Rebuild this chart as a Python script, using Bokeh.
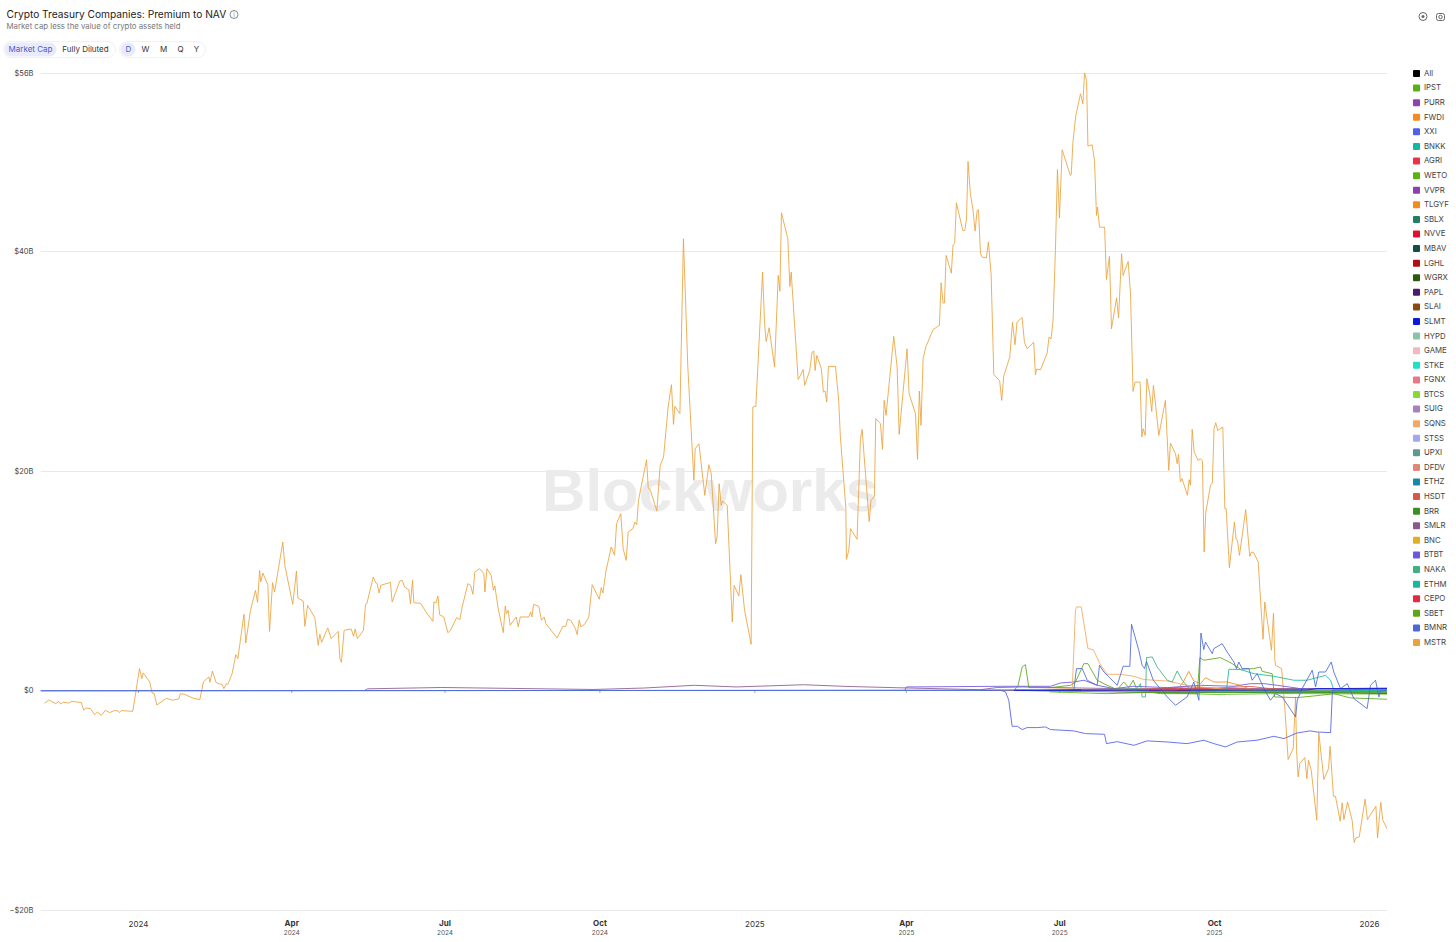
from bokeh.embed import file_html
from bokeh.resources import INLINE
from bokeh.plotting import figure
from bokeh.layouts import column, row
from bokeh.core.properties import value
from bokeh.models import Label, FixedTicker, Range1d

# ---- data: days since 2024-01-01, values in $B ----
MSTR_d = [-55.8,-53.2,-49.3,-47.3,-46.3,-44.7,-41.4,-39.4,-34,-32.5,-31.3,-28.5,-26.1,-24.5,-22,-19.6,-17.2,-14.3,-12.1,-11.3,-10.1,-3.4,0.6,2,2.8,6.7,8.1,9.3,10.9,16.6,20,24,24.7,26.9,32.5,36.4,38.6,41.8,42.4,43.9,46.1,49.7,50.7,52.1,53,55.6,57.8,59,62.6,63.7,66.5,69.5,70.7,71.9,72.6,73.8,76.8,77.8,79.6,80.8,85.7,86.9,91.6,93.8,94.6,97.8,98.8,100.4,104.7,106.7,107.7,108.7,112.4,114.4,118.6,119.6,120.5,122.1,126.3,127.7,128.7,130,133.6,134.8,135.6,139.4,141,141.7,142.9,143.9,149.6,150.6,155.2,
156.6,158,160.5,161.5,162.7,163.5,167.5,170.4,174.8,175.4,176.6,177.8,178.8,181.3,183.7,185.3,188.9,190.8,192.2,195.6,197.2,198.6,199.7,202.5,205.1,205.7,206.9,209.4,210.8,211.6,213.6,216.6,217.8,218.5,219.5,220.7,224.3,225.5,226.7,231.8,232.8,233.6,234.6,237.7,239.3,240.9,241.9,248.6,252,253.8,254.8,256.6,259.5,260.5,261.7,262.7,264.9,267.4,269.4,273.6,274.8,275.8,277.5,280.7,282.7,283.9,286.4,287.8,289.6,290.8,293.6,294.8,295.9,296.9,301.7,302.7,304,307.8,309.8,311.8,314.5,316.5,317.7,318.5,321.5,323.6,326.2,329.8,330.6,332.8,336.3,338.7,340.1,342.7,343.6,344.8,346,346.8,349.6,352.6,353.7,356.5,357.7,359.9,363.8,364.8,366.6,370.6,371.8,372.7,374.5,377.7,379.9,380.9,381.8,385.6,386.8,387.6,391.7,393.1,
394.7,395.6,398.6,400,401,401.8,402.8,405.5,406.7,407.7,408.7,409.7,413.9,415.8,416.8,420,420.4,421.8,422.8,426.7,428.7,429.7,431.7,433.9,435,437,437.8,440.6,441.8,442.8,443.9,448.5,450.5,451.7,456.4,457.6,461.4,462.6,463.7,464.7,465.9,467.5,471.9,475.6,476.6,477.8,478.6,479.6,482.7,483.7,484.7,485.7,489.5,490.7,491.7,492.6,494,495.6,496.8,498,498.8,500,501,503.5,504.7,506.3,507.9,511.4,512.6,513.8,517.4,519,520.5,521.7,524.7,526.1,527.7,531.6,532.6,533.4,535.6,539.6,540.7,541.9,543.1,544.5,545.7,546.9,548.5,553.4,
553.9,554.9,556.6,559.4,560.8,561.8,563,563.8,566.3,567.7,568.9,569.5,570.7,573.7,574.8,576.6,577.8,580.8,582,583.8,584.7,587.7,589.1,590.6,591.8,594.8,595.8,596.6,597.8,598.8,600.5,601.7,602.7,604.1,605.9,609.8,611.8,612.8,615.8,616.8,617.6,618.7,619.7,622.9,623.9,624.7,625.7,626.9,629.2,630.6,631.8,632.8,633.8,636.6,637.7,638.7,639.7,640.9,643.9,645.1,645.9,647.8,650.8,651.8,652.6,653.8,657.5,659.9,660.9,662.3,664.9,667.8,668.8,672.8,674,674.8,675.2,678.8,680.7,682.7,685.7,687.1,687.7,688.6,689.6,692.6,693.8,694.8,696.4,699.7,700.9,703.9,706.7,707.6,709.6,710.8,713.6,714.8,715.8,718,720.7,721.9,722.9,724.9,728.4,729.8,734.8,735.8,737.7,738.9,741.7]
MSTR_v = [-1.14,-.83,-1.17,-.96,-1.2,-1.05,-1.11,-.96,-1.08,-1.77,-1.56,-1.62,-2.17,-1.93,-2.23,-1.77,-1.99,-1.8,-1.83,-1.99,-1.8,-1.87,2.02,1.11,1.62,.8,-.2,-.26,-1.29,-.68,-.86,-.74,-.29,-.29,-.68,-.8,.83,1.26,.77,1.8,.74,.56,.2,.65,.56,1.56,3.29,2.93,6.96,4.35,7.32,9.14,8.05,10.96,9.9,10.72,9.66,5.41,9.84,8.99,13.54,11.42,7.87,10.9,8.45,8.17,5.87,7.78,6.66,4.14,5.14,4.41,5.72,4.75,5.41,2.93,2.59,5.5,5.63,4.96,5.63,4.75,5.5,7.87,7.93,10.36,9.81,9.75,8.9,9.6,9.87,8.08,9.99,
10.05,9.45,9.2,7.93,10.05,8.02,7.96,7.26,6.32,8.08,7.99,8.63,6.93,6.72,5.29,5.5,6.66,6.48,7.63,9.75,9.6,8.78,10.81,11.12,10.66,8.99,11.12,10.51,9.14,9.54,7.48,5.29,7.72,7.02,7.32,5.96,6.72,5.81,6.72,6.72,7.17,6.72,7.87,7.69,6.42,6.72,6.11,4.81,5.87,5.87,6.51,6.42,5.66,5.11,6.42,5.81,6.05,6.72,9.66,8.33,9.39,8.9,10.81,13.09,12.33,15.21,16.12,12.94,11.87,14.45,14.76,15.36,15.12,17.33,21.03,18.49,18.24,16.36,20.52,21.28,25.83,27.86,24.25,25.89,25.22,41.14,29.47,19.15,22.04,22.49,17.79,20.58,19.76,13.39,14,18.85,16.88,17.27,16.88,6.26,9.6,8.63,10.57,7.32,4.23,25.83,25.89,38.11,33.41,31.8,33.05,29.47,37.81,36.38,43.51,41.14,36.81,38.11,28.34,28.71,
29.25,27.8,29.16,30.83,30.92,29.16,30.53,29.32,27.19,27.28,26.28,29.53,29.53,26.43,23.1,16.73,11.96,12.78,14.76,13.79,22.94,23.8,19.76,15.42,17.33,17.7,24.77,24.31,21.97,26.43,25.07,32.26,29.47,23.34,31.13,27.04,25.22,21.07,27.28,24.16,30.23,31.29,32.89,33.26,37.14,35.29,35.29,39.63,38.02,40.6,40.75,44.42,41.9,41.9,42.96,48.18,45.24,43.72,41.84,43.72,43.78,39.78,39.47,39.41,40.84,37.96,28.8,28.19,26.43,28.62,30.38,33.56,31.5,33.56,33.96,31.74,31.13,31.74,28.77,29.29,29.22,30.74,32.2,32.02,33.72,40.08,47.45,43.05,49.24,46.9,
47.0,49.94,52.37,54.34,53.43,56.25,55.55,49.58,49.7,48.27,43.27,44.03,42.2,42.2,37.44,39.54,32.95,35.77,33.95,39.78,37.81,39.08,36.14,27.25,28.1,28.1,23.1,23.85,23.25,28.4,27.04,25.43,27.8,25.83,23.25,26.43,20.06,22.55,21.58,20.67,21.52,19,19.31,17.79,19.21,18.7,23.8,21.73,20.97,21.13,20.91,12.63,16.27,18.7,18.94,23.85,24.4,23.7,24.01,16.58,16.58,11.21,15.36,13.76,13.7,12.33,16.49,12.24,12.63,12.57,11.72,4.69,8.08,3.69,7.08,2.78,2.32,2.02,-1.47,-6.26,-5.26,-.56,-5.41,-7.84,-6.63,-6.08,-7.99,-6.32,-7.23,-11.78,-3.81,-8.08,-7.08,-5.05,-9.6,-9.6,-11.87,-10.2,-11.72,-10.12,-11.78,-13.81,-13.39,-13.3,-9.87,-11.72,-10.51,-13.39,-10.15,-11.78,-12.63]
assert len(MSTR_d) == len(MSTR_v), (len(MSTR_d), len(MSTR_v))

XXI_d = [-58.2,511.9,514.9,516.8,518.8,521.8,524.8,527.7,533.7,538.6,541.6,548.5,555.4,562.4,573.7,574.8,581.2,591.1,599,610.9,622.7,632.6,638.6,645.5,652.4,664.3,674.2,680.2,688,695.8,699.9,707.9,709,741.7]
XXI_v = [0,.05,-.11,-.86,-3.23,-3.23,-3.53,-3.35,-3.35,-3.29,-3.53,-3.59,-3.65,-3.9,-3.96,-4.81,-4.63,-4.96,-4.56,-4.66,-4.81,-4.5,-4.81,-5.11,-4.66,-4.5,-4.14,-4.35,-3.84,-3.65,-3.75,-3.81,.05,.2]

BMNR_d = [-58.2,555.4,557,560.4,563.4,569.3,570.7,573.3,581.2,584.7,588.7,589.7,594,596,597.4,598.6,602.6,610.9,615.8,622.7,626.7,629.7,630.9,632.6,633.6,637.6,638.6,643.5,646.5,650.5,652,653.4,655.4,659.4,661.3,664.3,668.3,672.2,675.2,679.2,687.1,688.1,691,697,699,700.9,704.9,708.3,709.8,713.8,717.8,721.7,729.6,731.6,734.6,736.6,737.6,741.5]
BMNR_v = [0,.05,2.02,2.02,.96,.5,2.32,1.71,.5,2.23,2.23,6.05,3.69,2.32,2.02,2.68,.96,-.56,-1.32,-.56,.8,-.86,5.26,3.75,4.44,3.38,3.84,4.29,3.53,2.62,2.02,2.62,2.02,2.02,.96,1.56,.2,-.86,-.26,-.56,-2.38,-.86,.2,1.87,.35,1.71,1.71,2.62,1.71,.2,.65,-.71,-1.62,.5,.96,-.56,.05,.05]

SQNS_d = [510,554.5,556.4,557,559.8,563.8,567,570.9,575.2,583.2,591.1,597,610.9,622.7,634.6,646.5,741.7]
SQNS_v = [.02,.2,7.32,7.63,7.63,3.84,3.75,2.47,1.5,1.5,1.32,1.02,.89,.5,.29,.11,.1]

FWDI_d = [606.9,616.8,620.4,623.7,626.7,630.7,633.6,638.6,646.5,654.4,661.3,741.5]
FWDI_v = [0,.1,.8,1.77,.89,.65,1.2,.8,.8,.5,.05,0]

SBET_d = [519.8,522.2,524.8,526.7,528.7,541.6,553.5,556.4,561.4,563.8,569.3,575.2,581.2,585.1,588.1,590.7,593,606.9,628.7,630.3,632.6,642.5,649.5,654.4,662.3,666.3,667.3,673.2,674.6,688.1,701.9,709.8,719.7,741.9]
SBET_v = [.05,.41,2.17,2.38,.29,.29,.5,.8,2.47,2.47,.96,.5,.11,.8,.29,.96,.05,-.26,-.26,3.02,2.78,3.02,2.47,1.96,2.02,2.17,1.77,1.56,-.56,-.62,-.41,-.26,-.65,-.77]

NAKA_d = [571.3,593,595,596,598,598.6,602,604.9,610.9,613.8,616.8,619.8,624.7,741.7]
NAKA_v = [.05,.2,.65,-.56,-.56,3.02,3.08,2.17,.96,.8,1.8,.96,.05,0]

ETHM_d = [638.6,646.1,647.5,654.4,662.3,674.2,686.1,694,704.9,707.9,709.8,741.7]
ETHM_v = [0,.05,1.96,1.93,1.56,1.32,.96,.96,1.41,.96,.05,0]

BTBT_d = [455,456,511.9,541.6,547.5,555.4,561.4,569.3,579.2,591.1,610.9,630.7,650.5,660.4,668.3,676.2,690,709.8,741.7]
BTBT_v = [0,.35,.41,.41,.71,.8,.96,.5,.2,.41,.29,.5,.41,.65,.65,.5,.2,.11,.1]

SMLR_d = [134,136,180,220,270,300,330,355,395,420,450,500,510,525,560,600,650,741.7]
SMLR_v = [0,.18,.3,.22,.12,.25,.5,.35,.55,.4,.28,.1,.3,.35,.25,.15,.1,.05]

HSDT_d = [560,600,622,640,660,672,690,741.7]
HSDT_v = [.05,.15,.35,.25,.4,.2,.08,.03]

SLMT_d = [520,694,700,741.7]
SLMT_v = [.03,.08,.2,.2]

WETO_d = [541,575,600,640,680,741.7]
WETO_v = [-.1,-.26,-.15,-.33,-.25,-.3]
WGRX_d = [530,600,690,741.7]
WGRX_v = [.02,-.15,-.1,-.25]
IPST_d = [560,620,680,741.7]
IPST_v = [.02,.12,.05,-.02]
PURR_d = [600,650,700,741.7]
PURR_v = [.1,.2,.15,.08]
BNKK_d = [570,610,660,741.7]
BNKK_v = [.05,.15,.1,-.1]
AGRI_d = [590,640,690,741.7]
AGRI_v = [.08,.18,.08,.02]
VVPR_d = [520,580,650,741.7]
VVPR_v = [.05,.12,.1,.25]
TLGYF_d = [555,620,690,741.7]
TLGYF_v = [.05,.15,.12,.2]
SBLX_d = [540,600,660,741.7]
SBLX_v = [.02,-.05,-.1,-.05]
NVVE_d = [560,610,670,741.7]
NVVE_v = [.05,.2,.08,.12]
MBAV_d = [520,600,680,741.7]
MBAV_v = [.05,.1,.05,0]
LGHL_d = [510,570,640,741.7]
LGHL_v = [.03,.07,.05,.08]
PAPL_d = [600,650,741.7]
PAPL_v = [.08,.12,.18]
SLAI_d = [500,580,660,741.7]
SLAI_v = [.04,.12,.1,.12]
HYPD_d = [600,660,741.7]
HYPD_v = [.05,.1,.07]
GAME_d = [560,640,741.7]
GAME_v = [.04,.08,.04]
STKE_d = [620,680,741.7]
STKE_v = [.1,.05,-.06]
FGNX_d = [640,680,741.7]
FGNX_v = [.12,.08,.05]
BTCS_d = [520,600,741.7]
BTCS_v = [.02,-.1,-.12]
SUIG_d = [620,680,741.7]
SUIG_v = [.1,.12,.14]
STSS_d = [590,660,741.7]
STSS_v = [.05,.1,.12]
UPXI_d = [600,660,741.7]
UPXI_v = [.05,.02,-.05]
DFDV_d = [560,650,741.7]
DFDV_v = [.08,.12,.1]
ETHZ_d = [600,660,741.7]
ETHZ_v = [.05,.02,-.02]
BRR_d = [600,660,741.7]
BRR_v = [-.1,-.15,-.18]
BNC_d = [590,650,741.7]
BNC_v = [.1,.1,.02]
CEPO_d = [600,670,741.7]
CEPO_v = [.02,.04,.03]

tickers = ["All","IPST","PURR","FWDI","XXI","BNKK","AGRI","WETO","VVPR","TLGYF","SBLX","NVVE","MBAV","LGHL","WGRX","PAPL","SLAI","SLMT","HYPD","GAME","STKE","FGNX","BTCS","SUIG","SQNS","STSS","UPXI","DFDV","ETHZ","HSDT","BRR","SMLR","BNC","BTBT","NAKA","ETHM","CEPO","SBET","BMNR","MSTR"]
colors = ["#000000","#57b014","#8a44ab","#f58a1f","#4f5fe8","#14b8a0","#e8334a","#5cb310","#8b3fb0","#f48c15","#1e8060","#e01030","#0f5048","#b01010","#2a5a10","#4a1a70","#8a4a10","#0a18e0","#8ac4a8","#f0b8c0","#20e0c8","#e87888","#88d838","#a880c0","#f2a860","#a0a8f0","#5a9a90","#e08878","#1888a8","#d85848","#3a9020","#8a5a88","#e0b020","#6a58e0","#40b080","#18b8a0","#e82840","#5aa818","#4a68d8","#eba23c"]
month_days = [91,182,274,456,547,639]
month_names = ["Apr","Jul","Oct","Apr","Jul","Oct"]
month_years = ["2024","2024","2024","2025","2025","2025"]
year_days = [0,366,731]
year_names = ["2024","2025","2026"]
y_ticks = [-20,0,20,40,56.19]
y_names = ["\u2212$20B","$0","$20B","$40B","$56B"]

FONT = value("Inter")
DAY = 86400000
BASE = 1704067200000  # 2024-01-01
def ms(d):
    return BASE + d * DAY
color_of = dict(zip(tickers, colors))

HEAD_H, FOOT_TOP = 60, 918

def strip(width, height, x0, x1, y0, y1, **kw):
    f = figure(width=width, height=height, output_backend="svg", toolbar_location=None,
               x_range=Range1d(x0, x1) if not kw.get("xr") else kw["xr"], y_range=Range1d(y1, y0),
               x_axis_location=None, y_axis_location=None,
               min_border_left=kw.get("left", 0), min_border_right=0, min_border_top=0, min_border_bottom=0)
    f.outline_line_color = None
    f.grid.visible = False
    f.frame_align = False
    return f

def put(f, x, y, text, size, color="#333333", align="left", style="normal"):
    f.text([x], [y], text=[text], text_font=FONT, text_font_size=f"{size}px", text_color=color,
           text_align=align, text_baseline="middle", text_font_style=style)

def pill(f, x0, y0, x1, y1, fill, line=None, radius=7):
    f.quad(left=[x0], right=[x1], top=[y0], bottom=[y1], fill_color=fill, line_color=line, border_radius=radius)

# ---- header strip (page pixels) ----
head = strip(1456, HEAD_H, 0, 1456, 0, HEAD_H)
put(head, 6, 13.7, "Crypto Treasury Companies: Premium to NAV", 10.2, "#222222")
put(head, 6, 25.2, "Market cap less the value of crypto assets held", 7.8, "#777777")
head.scatter([233.5], [14], marker="circle", size=8, fill_color=None, line_color="#888888")
put(head, 233.5, 13.5, "i", 6, "#888888", "center")
pill(head, 3, 41, 115, 57, "#ffffff", "#f0f0f5", 8)
pill(head, 4, 42, 56, 56, "#e9ebfb")
put(head, 30, 48.2, "Market Cap", 8, "#4a5ad0", "center")
put(head, 85, 48.2, "Fully Diluted", 8, "#333333", "center")
pill(head, 119, 41, 205, 57, "#ffffff", "#f0f0f5", 8)
pill(head, 120, 42, 135, 56, "#e9ebfb")
for t, x, c in [("D",128,"#4a5ad0"),("W",145,"#333333"),("M",163,"#333333"),("Q",180,"#333333"),("Y",196,"#333333")]:
    put(head, x, 48.2, t, 8, c, "center")
head.scatter([1422.5], [16], marker="circle", size=8, fill_color=None, line_color="#666666")
head.scatter([1422.5], [16], marker="circle", size=3, fill_color="#666666", line_color=None)
pill(head, 1436, 13, 1444, 20, None, "#666666", 2)
head.scatter([1440], [16.5], marker="circle", size=3.5, fill_color=None, line_color="#666666")

# ---- main plot ----
x_range = Range1d(ms(-58.2), ms(741.7))
p = figure(width=1387, height=FOOT_TOP - HEAD_H, output_backend="svg", toolbar_location=None,
           x_range=x_range, y_range=Range1d(-20.09, 56.28), x_axis_location=None,
           min_border_left=40, min_border_right=0, min_border_top=12, min_border_bottom=7)
p.frame_align = False
p.outline_line_color = None
p.xgrid.visible = False
p.ygrid.grid_line_color = "#e9e9e9"
p.ygrid.grid_line_width = 1
p.yaxis.ticker = FixedTicker(ticks=y_ticks)
p.yaxis.major_label_overrides = dict(zip(y_ticks, y_names))
p.yaxis.axis_line_color = None
p.yaxis.major_tick_line_color = None
p.yaxis.minor_tick_line_color = None
p.yaxis.major_tick_out = 0
p.yaxis.major_label_text_font = "Inter"
p.yaxis.major_label_text_font_size = "7.5px"
p.yaxis.major_label_text_color = "#444444"
p.yaxis.major_label_standoff = 7

p.add_layout(Label(x=670, y=421, x_units="screen", y_units="screen", text="Blockworks",
                   text_font="Liberation Sans", text_font_size="60px", text_color="#ebebeb", text_font_style="bold",
                   text_align="center", text_baseline="middle", level="underlay"))

tick_x = [ms(d) for d in month_days + year_days]
p.segment(x0=tick_x, y0=[0] * len(tick_x), x1=tick_x, y1=[-.2] * len(tick_x), line_color="#aaaaaa", line_width=1)

series = [("MSTR",MSTR_d,MSTR_v),("IPST",IPST_d,IPST_v),("PURR",PURR_d,PURR_v),("BNKK",BNKK_d,BNKK_v),("AGRI",AGRI_d,AGRI_v),("WETO",WETO_d,WETO_v),("VVPR",VVPR_d,VVPR_v),("TLGYF",TLGYF_d,TLGYF_v),("SBLX",SBLX_d,SBLX_v),("NVVE",NVVE_d,NVVE_v),("MBAV",MBAV_d,MBAV_v),("LGHL",LGHL_d,LGHL_v),("WGRX",WGRX_d,WGRX_v),("PAPL",PAPL_d,PAPL_v),("SLAI",SLAI_d,SLAI_v),("HYPD",HYPD_d,HYPD_v),("GAME",GAME_d,GAME_v),("STKE",STKE_d,STKE_v),("FGNX",FGNX_d,FGNX_v),("BTCS",BTCS_d,BTCS_v),("SUIG",SUIG_d,SUIG_v),("STSS",STSS_d,STSS_v),("UPXI",UPXI_d,UPXI_v),("DFDV",DFDV_d,DFDV_v),("ETHZ",ETHZ_d,ETHZ_v),("BRR",BRR_d,BRR_v),("BNC",BNC_d,BNC_v),("CEPO",CEPO_d,CEPO_v),("HSDT",HSDT_d,HSDT_v),("SMLR",SMLR_d,SMLR_v),("BTBT",BTBT_d,BTBT_v),("FWDI",FWDI_d,FWDI_v),("SQNS",SQNS_d,SQNS_v),("SBET",SBET_d,SBET_v),("NAKA",NAKA_d,NAKA_v),("ETHM",ETHM_d,ETHM_v),("XXI",XXI_d,XXI_v),("BMNR",BMNR_d,BMNR_v),("SLMT",SLMT_d,SLMT_v)]
for name, d, v in series:
    p.line([ms(t) for t in d], v, line_color=color_of[name], line_width=1, line_alpha=0.85)

# ---- legend strip ----
leg = strip(69, FOOT_TOP - HEAD_H, 1387, 1456, HEAD_H, FOOT_TOP)
step = (642 - 73) / 39
for i, (t, c) in enumerate(zip(tickers, colors)):
    y = 73 + i * step
    leg.quad(left=[1412.5], right=[1419.5], top=[y - 3.5], bottom=[y + 3.5], fill_color=c, line_color=None, border_radius=1)
    put(leg, 1423.5, y - 0.6, t, 7.8, "#444444")

# ---- x tick labels strip, sharing the main x range ----
foot = strip(1387, 942 - FOOT_TOP, 0, 1, FOOT_TOP, 942, xr=x_range, left=40)
for d, n, y in zip(month_days, month_names, month_years):
    put(foot, ms(d), 922.8, n, 8, "#333333", "center", "bold")
    put(foot, ms(d), 931.5, y, 6.5, "#555555", "center")
for d, n in zip(year_days, year_names):
    put(foot, ms(d), 923.3, n, 8, "#333333", "center")

page = column(head, row(p, leg), foot)
open("out.html", "w").write(file_html(page, INLINE))
